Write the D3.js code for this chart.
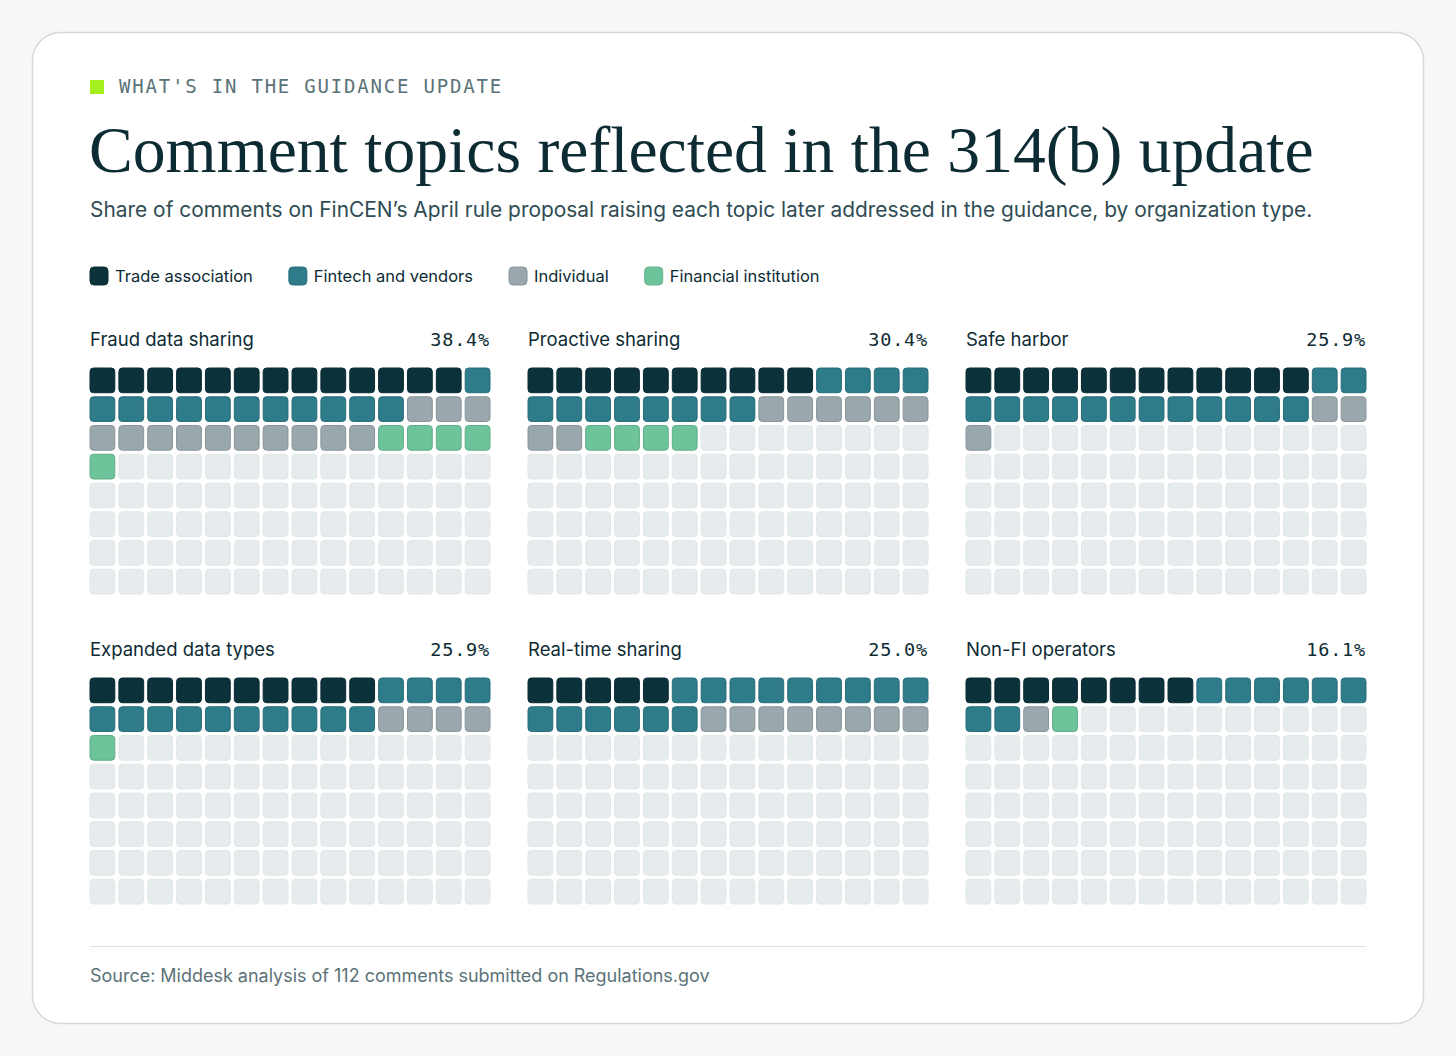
<!DOCTYPE html>
<html>
<head>
<meta charset="utf-8">
<script src="https://cdn.jsdelivr.net/npm/d3@7/dist/d3.min.js"></script>
<style>
  html, body { margin: 0; padding: 0; background: #f7f7f7; }
  svg { display: block; }
</style>
</head>
<body>
<svg id="chart" width="1456" height="1056"></svg>
<script>
// ---------- DATA ----------
const topics = ["Fraud data sharing", "Proactive sharing", "Safe harbor",
                "Expanded data types", "Real-time sharing", "Non-FI operators"];
const categories = ["Trade association", "Fintech and vendors", "Individual", "Financial institution"];
const tradeAssociation    = [13, 10, 12, 10, 5, 8];
const fintechAndVendors   = [12, 12, 14, 14, 15, 8];
const individual          = [13, 8, 3, 4, 8, 1];
const financialInstitution = [5, 4, 0, 1, 0, 1];
const pctLabels = ["38.4%", "30.4%", "25.9%", "25.9%", "25.0%", "16.1%"];
const totalComments = 112;
const gridCols = 14, gridRows = 8;

// ---------- STYLE ----------
const colors = ["#0b313a", "#2e7b8a", "#9aa8ae", "#6dc49b"];
const emptyColor = "#e6eced";
const ink = "#0d2b33";
const sans = "Inter, 'Noto Sans', sans-serif";
const mono = "'DejaVu Sans Mono', 'Liberation Mono', monospace";
const serif = "'Liberation Serif', 'DejaVu Serif', serif";

const svg = d3.select("#chart");

function fitWidth(sel, target) {
  const w = sel.node().getComputedTextLength();
  const fs = parseFloat(sel.attr("font-size"));
  sel.attr("font-size", fs * target / w);
}

// card
svg.append("rect")
  .attr("x", 32.5).attr("y", 32.5).attr("width", 1391).attr("height", 991)
  .attr("rx", 28).attr("fill", "#ffffff").attr("stroke", "#d3dadb").attr("stroke-width", 1.5);

// eyebrow
svg.append("rect").attr("x", 90).attr("y", 80).attr("width", 14).attr("height", 14).attr("fill", "#a4f01f");
svg.append("text").attr("x", 119).attr("y", 93)
  .attr("font-family", mono).attr("font-size", 19).attr("letter-spacing", 1.8)
  .attr("fill", "#5a7278").text("WHAT'S IN THE GUIDANCE UPDATE");

// title
const title = svg.append("text").attr("x", 89).attr("y", 172)
  .attr("font-family", serif).attr("font-size", 66).attr("fill", ink)
  .text("Comment topics reflected in the 314(b) update");
fitWidth(title, 1225);

// subtitle
const sub = svg.append("text").attr("x", 90).attr("y", 217)
  .attr("font-family", sans).attr("font-size", 20).attr("fill", "#2f4c54")
  .text("Share of comments on FinCEN\u2019s April rule proposal raising each topic later addressed in the guidance, by organization type.");
fitWidth(sub, 1223);

// legend
let lx = 90;
categories.forEach((c, i) => {
  svg.append("rect").attr("x", lx).attr("y", 267).attr("width", 18).attr("height", 18)
    .attr("rx", 4).attr("fill", colors[i]).attr("stroke", d3.color(colors[i]).darker(0.3)).attr("stroke-width", 1);
  const t = svg.append("text").attr("x", lx + 25).attr("y", 282)
    .attr("font-family", sans).attr("font-size", 16.5).attr("fill", ink).text(c);
  lx += 25 + t.node().getComputedTextLength() + 36;
});

// panels
const panelX = [90, 528, 966];
const panelTitleY = [346, 656];
const gridTopY = [368, 678];
const gridW = 400, gridH = 226;

const xBand = d3.scaleBand().domain(d3.range(gridCols)).range([0, gridW]).paddingInner(0.14);
const yBand = d3.scaleBand().domain(d3.range(gridRows)).range([0, gridH]).paddingInner(0.14);

const seriesByCat = [tradeAssociation, fintechAndVendors, individual, financialInstitution];

topics.forEach((topic, ti) => {
  const col = ti % 3, row = Math.floor(ti / 3);
  const g = svg.append("g").attr("transform", `translate(${panelX[col]},${gridTopY[row]})`);
  svg.append("text").attr("x", panelX[col]).attr("y", panelTitleY[row])
    .attr("font-family", sans).attr("font-size", 18.5).attr("fill", ink).text(topic);
  svg.append("text").attr("x", panelX[col] + gridW).attr("y", panelTitleY[row])
    .attr("text-anchor", "end")
    .attr("font-family", mono).attr("font-size", 18.5).attr("letter-spacing", 0.8).attr("fill", ink)
    .text(pctLabels[ti]);

  // build cell list
  const cells = [];
  seriesByCat.forEach((arr, ci) => {
    for (let k = 0; k < arr[ti]; k++) cells.push(ci);
  });
  const data = d3.range(totalComments).map(i => ({ i, cat: i < cells.length ? cells[i] : -1 }));

  g.selectAll("rect").data(data).join("rect")
    .attr("x", d => xBand(d.i % gridCols))
    .attr("y", d => yBand(Math.floor(d.i / gridCols)))
    .attr("width", xBand.bandwidth())
    .attr("height", yBand.bandwidth())
    .attr("rx", 3.5)
    .attr("fill", d => d.cat < 0 ? emptyColor : colors[d.cat])
    .attr("stroke", d => d.cat < 0 ? "#e0e7e8" : d3.color(colors[d.cat]).darker(0.35))
    .attr("stroke-width", 1);
});

// divider
svg.append("line").attr("x1", 90).attr("x2", 1366).attr("y1", 946.5).attr("y2", 946.5)
  .attr("stroke", "#dbe4e6").attr("stroke-width", 1.2);

// source
const src = svg.append("text").attr("x", 90).attr("y", 982)
  .attr("font-family", sans).attr("font-size", 18).attr("fill", "#5a7278")
  .text("Source: Middesk analysis of 112 comments submitted on Regulations.gov");
fitWidth(src, 620);
</script>
</body>
</html>
